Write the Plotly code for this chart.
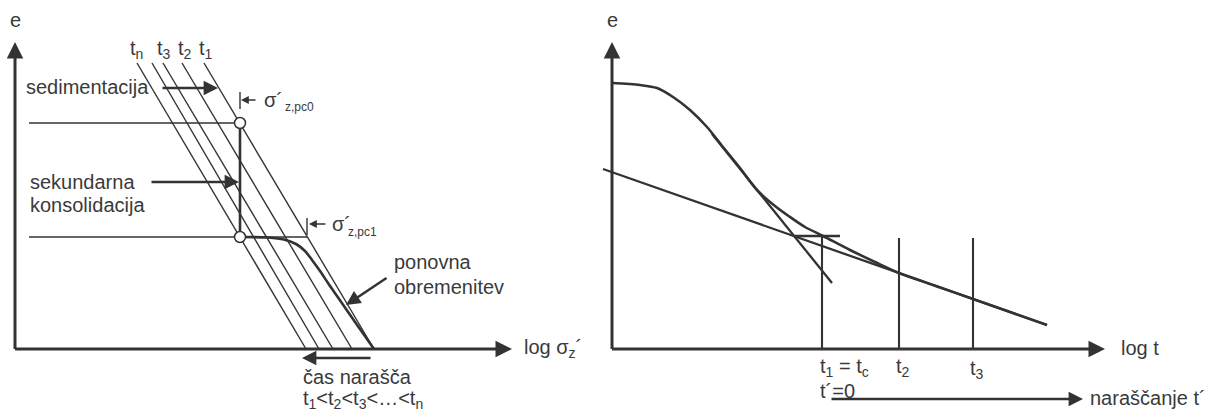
import plotly.graph_objects as go

# ---------------------------------------------------------------
# Drawing frame (one shared coordinate system for both diagrams)
# ---------------------------------------------------------------
W, H = 1217, 412
INK = "#333333"
TXT = "#3a3a3a"
FONT = "Arial, Liberation Sans, sans-serif"

# ---------------- left diagram: e – log sigma'_z ----------------
L_AXIS_X = 15
L_AXIS_Y = 349
L_AXIS_TOP = 42
L_AXIS_END = 512

# isochrones t_n, ..., t_3, t_2, t_1 (top and bottom ends)
iso_top_x = [137, 152, 163, 182, 204]
iso_bot_x = [306, 319, 333, 352, 374]
iso_top_y = 63
iso_labels = ["t<sub>n</sub>", "t<sub>3</sub>", "t<sub>2</sub>", "t<sub>1</sub>"]
iso_label_x = [128, 155, 176, 197]

# preconsolidation states (end of sedimentation, after secondary consolidation)
pc_x = [240, 240]
pc_y = [123, 237]
pc_line_start = 29
pc_line_end = [240, 307]

# reloading curve
reload_x = [240, 268, 284, 296, 305, 312, 320, 328, 337, 346, 355, 374]
reload_y = [237, 237.5, 239.5, 244, 251, 260, 271, 283, 296, 309, 322, 349]

# ---------------- right diagram: e – log t ----------------------
R_AXIS_X = 612
R_AXIS_END = 1105

primary_x = [612, 640, 657, 673, 690, 707, 723, 740, 757, 775, 790, 805,
             823, 850, 875, 899, 935, 973, 1010, 1047]
primary_y = [83, 85, 88, 97, 110, 127, 147, 168, 190, 206, 217, 227,
             236, 250, 262, 273, 285.7, 299, 312, 325]

secondary_x = [603, 1047]
secondary_y = [169, 325]

tangent_x = [712, 832]
tangent_y = [134, 283]

tc_mark_x = [794, 840]
tc_mark_y = [236, 236]

time_marks_x = [822, 899, 973]
time_marks_top = [236, 238, 238]
time_labels = ["t<sub>1</sub> = t<sub>c</sub>", "t<sub>2</sub>", "t<sub>3</sub>"]
time_label_x = [818, 894, 968]
time_label_y = [367, 367, 369]

fig = go.Figure()


def seg(xs, ys, width=1.4, shape="linear"):
    fig.add_trace(go.Scatter(
        x=xs, y=ys, mode="lines", hoverinfo="skip", showlegend=False,
        line=dict(color=INK, width=width, shape=shape, smoothing=0.8)))


def arrow(x0, y0, x1, y1, width=2.5, size=1.15):
    fig.add_annotation(x=x1, y=y1, ax=x0, ay=y0, xref="x", yref="y",
                       axref="x", ayref="y", text="", showarrow=True,
                       arrowhead=2, arrowsize=size, arrowwidth=width,
                       arrowcolor=INK, standoff=0, startstandoff=0)


def label(x, y, text, size=20, anchor="left"):
    fig.add_annotation(x=x, y=y, xref="x", yref="y", text=text,
                       showarrow=False, xanchor=anchor, yanchor="middle",
                       font=dict(family=FONT, size=size, color=TXT))


# ---- left diagram ----
for tx, bx in zip(iso_top_x, iso_bot_x):
    seg([tx, bx], [iso_top_y, L_AXIS_Y])

for y, xe in zip(pc_y, pc_line_end):
    seg([pc_line_start, xe], [y, y])

seg([pc_x[0], pc_x[1]], [pc_y[0], pc_y[1]], width=2.6)
seg(reload_x, reload_y, width=2.6, shape="spline")

fig.add_trace(go.Scatter(
    x=pc_x, y=pc_y, mode="markers", hoverinfo="skip", showlegend=False,
    marker=dict(symbol="circle", size=11, color="white",
                line=dict(color=INK, width=1.5))))

# sigma'_z,pc0 and sigma'_z,pc1 markers
seg([240, 240], [92, 109])
arrow(257, 100, 241, 100, width=1.3, size=1.2)
label(262, 100, "σ´")
label(283, 107, "z,pc0", size=12)

seg([307, 307], [218, 235])
arrow(327, 224, 309, 224, width=1.3, size=1.2)
label(330, 224, "σ´")
label(346, 232, "z,pc1", size=12)

# axes
arrow(L_AXIS_X, L_AXIS_Y + 1.5, L_AXIS_X, L_AXIS_TOP, width=3, size=1.1)
arrow(L_AXIS_X - 1.5, L_AXIS_Y, L_AXIS_END, L_AXIS_Y, width=3, size=1.1)
label(L_AXIS_X, 20, "e", anchor="center")
label(522, 348, "log σ<sub>z</sub>´")

# isochrone labels
for x, t in zip(iso_label_x, iso_labels):
    label(x, 49, t)

# explanatory notes with arrows
label(24, 87, "sedimentacija")
arrow(161, 88, 218, 88)
label(28, 182, "sekundarna")
label(28, 205, "konsolidacija")
arrow(150, 182, 239, 182)
label(392, 262, "ponovna")
label(392, 287, "obremenitev")
arrow(388, 277, 346, 305)
arrow(372, 358, 302, 358)
label(301, 377, "čas narašča")
label(301, 399,
      "t<sub>1</sub>&lt;t<sub>2</sub>&lt;t<sub>3</sub>&lt;…&lt;t<sub>n</sub>")

# ---- right diagram ----
seg(primary_x, primary_y, width=2.6, shape="spline")
seg(secondary_x, secondary_y, width=2.3)
seg(tangent_x, tangent_y, width=2.3)
seg(tc_mark_x, tc_mark_y, width=2.3)
for x, top in zip(time_marks_x, time_marks_top):
    seg([x, x], [top, L_AXIS_Y], width=2.1)

arrow(R_AXIS_X, L_AXIS_Y + 1.5, R_AXIS_X, L_AXIS_TOP, width=3, size=1.1)
arrow(R_AXIS_X - 1.5, L_AXIS_Y, R_AXIS_END, L_AXIS_Y, width=3, size=1.1)
label(R_AXIS_X, 20, "e", anchor="center")
label(1119, 348, "log t")

for x, y, t in zip(time_label_x, time_label_y, time_labels):
    label(x, y, t)
label(818, 391, "t´=0")
arrow(830, 399, 1083, 399)
label(1088, 398, "naraščanje t´")

fig.update_layout(
    width=W, height=H, margin=dict(l=0, r=0, t=0, b=0),
    paper_bgcolor="white", plot_bgcolor="white",
    xaxis=dict(range=[0, W], visible=False, fixedrange=True),
    yaxis=dict(range=[H, 0], visible=False, fixedrange=True),
    showlegend=False,
)

fig.write_html("out.html")
